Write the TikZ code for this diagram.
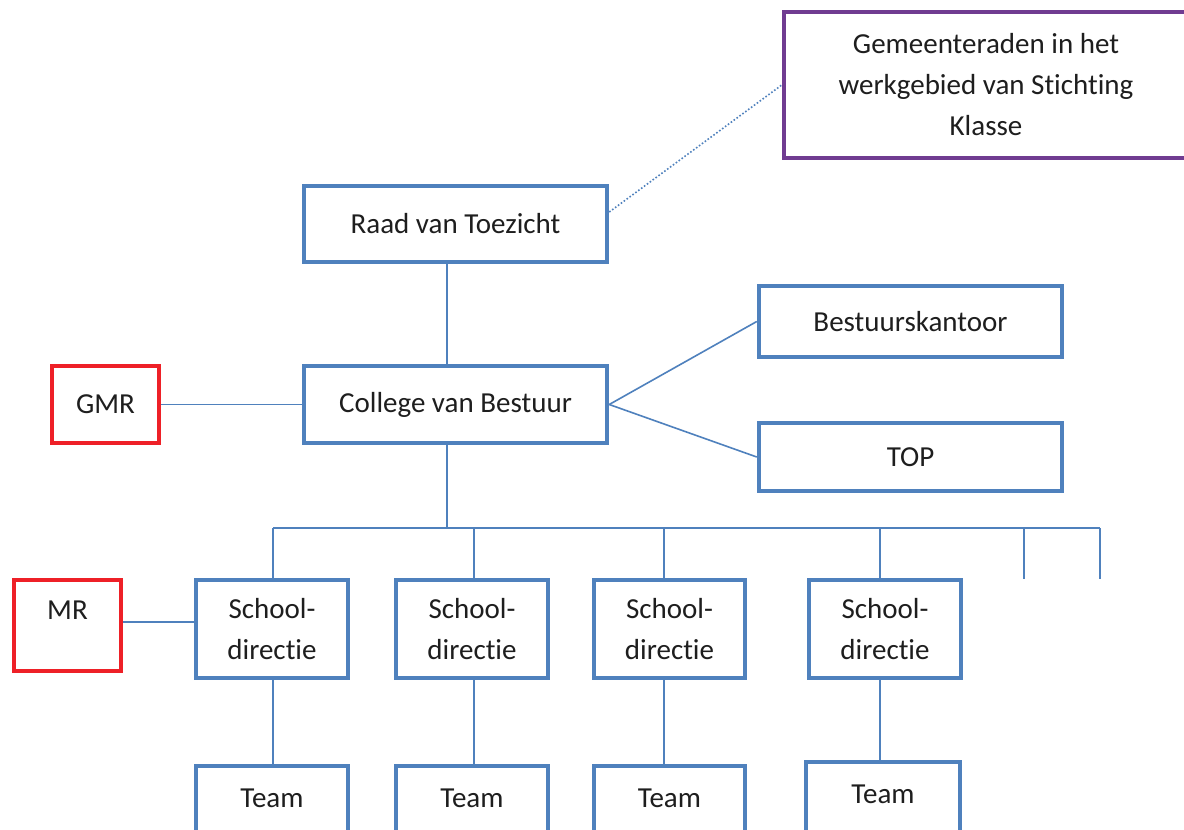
\documentclass[tikz,border=0pt]{standalone}
\usepackage{fontspec}
\setmainfont{Carlito}[Ligatures=NoCommon]
\definecolor{obl}{HTML}{4F81BD}
\definecolor{ored}{HTML}{EE2027}
\definecolor{opur}{HTML}{703C91}
\definecolor{otxt}{HTML}{1E1E1E}
\begin{document}
\begin{tikzpicture}[x=1bp,y=-1bp,
  box/.style={draw, line width=4.5bp, inner sep=0pt, align=center, text=otxt,
    font=\fontsize{29bp}{41bp}\selectfont},
  bluebox/.style={box, draw=obl},
  redbox/.style={box, draw=ored},
  purplebox/.style={box, draw=opur},
  teambox/.style={bluebox, minimum height=74bp, text height=19bp, text depth=10bp},
  conn/.style={draw=obl, line width=1.6bp},
  dotconn/.style={draw=obl, line width=1.6bp, dotted}]
\useasboundingbox (0,0) rectangle (1184,830);
\fill[white] (0,0) rectangle (1184,830);

\node[purplebox, minimum width=404bp, minimum height=146bp] (gem) at (986,85)
  {Gemeenteraden in het\\werkgebied van Stichting\\Klasse};
\node[bluebox, minimum width=303bp, minimum height=76bp] (rvt) at (455.5,224) {Raad van Toezicht};
\node[bluebox, minimum width=303bp, minimum height=77bp] (cvb) at (455.5,404.5) {College van Bestuur};
\node[redbox, minimum width=107bp, minimum height=77bp] (gmr) at (105.5,404.5) {GMR};
\node[bluebox, minimum width=303bp, minimum height=71bp] (bk) at (910.5,321.5) {Bestuurskantoor};
\node[bluebox, minimum width=303bp, minimum height=68bp] (top) at (910.5,457) {TOP};

\node[bluebox, minimum width=152bp, minimum height=98bp] (s1) at (272,629) {School-\\directie};
\node[bluebox, minimum width=152bp, minimum height=98bp] (s2) at (472,629) {School-\\directie};
\node[bluebox, minimum width=151bp, minimum height=98bp] (s3) at (669.5,629) {School-\\directie};
\node[bluebox, minimum width=152bp, minimum height=98bp] (s4) at (885,629) {School-\\directie};
\node[redbox, minimum width=107bp, minimum height=91bp, text height=20bp, text depth=33bp] (mr) at (67.5,625.5) {MR};

\node[teambox, minimum width=152bp] (t1) at (272,803) {Team};
\node[teambox, minimum width=152bp] (t2) at (472,803) {Team};
\node[teambox, minimum width=151bp] (t3) at (669.5,803) {Team};
\node[teambox, minimum width=154bp] (t4) at (883,799) {Team};

\coordinate (bus) at (447,528);
\coordinate (d1) at (273,528);
\coordinate (d2) at (474,528);
\coordinate (d3) at (664,528);
\coordinate (d4) at (880,528);
\coordinate (d5) at (1024,528);
\coordinate (d6) at (1100,528);
\coordinate (e5) at (1024,579);
\coordinate (e6) at (1100,579);
\coordinate (mry) at (0,622);

\draw[dotconn] ([yshift=12bp]rvt.east) -- (gem.west);
\draw[conn] (rvt.south -| bus) -- (cvb.north -| bus);
\draw[conn] (gmr.east) -- (cvb.west);
\draw[conn] (cvb.east) -- (bk.west);
\draw[conn] (cvb.east) -- (top.west);
\draw[conn] (cvb.south -| bus) -- (bus);
\draw[conn] (d1) -- (d6);
\draw[conn] (d1) -- (d1 |- s1.north);
\draw[conn] (d2) -- (d2 |- s2.north);
\draw[conn] (d3) -- (d3 |- s3.north);
\draw[conn] (d4) -- (d4 |- s4.north);
\draw[conn] (d5) -- (e5);
\draw[conn] (d6) -- (e6);
\draw[conn] (mr.east |- mry) -- (s1.west |- mry);
\draw[conn] (s1.south -| d1) -- (d1 |- t1.north);
\draw[conn] (s2.south -| d2) -- (d2 |- t2.north);
\draw[conn] (s3.south -| d3) -- (d3 |- t3.north);
\draw[conn] (s4.south -| d4) -- (d4 |- t4.north);
\end{tikzpicture}
\end{document}
